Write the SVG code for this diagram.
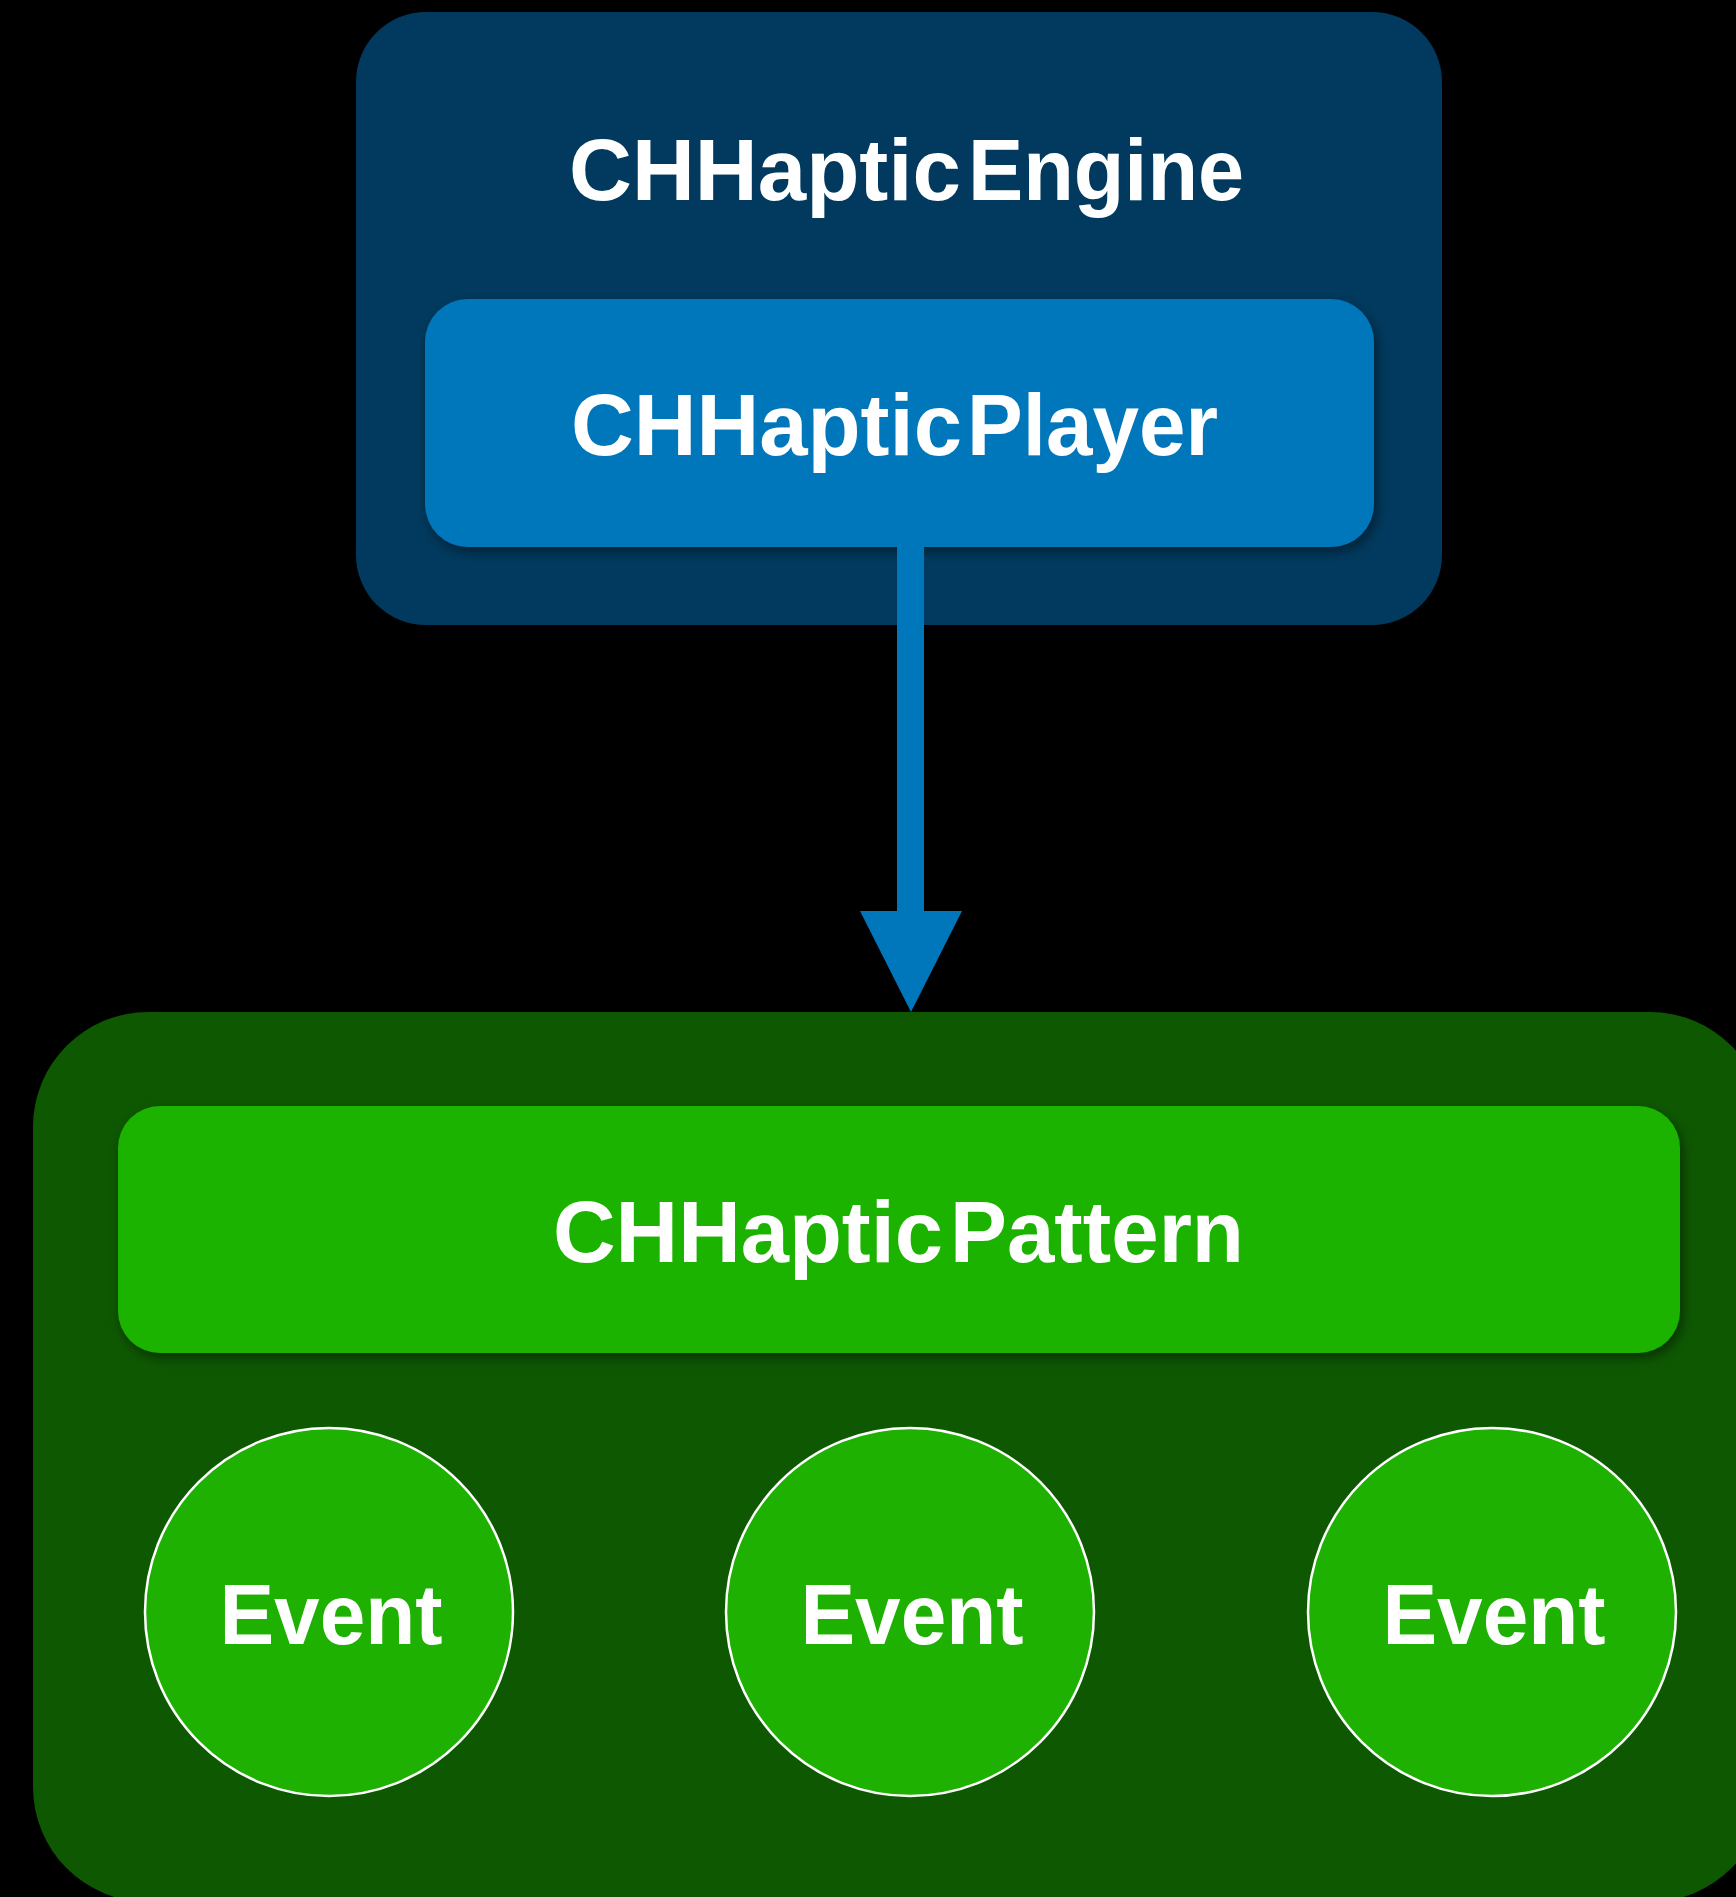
<svg xmlns="http://www.w3.org/2000/svg" width="1736" height="1897" viewBox="0 0 1736 1897">
  <style>
    .lbl { font-family: "Liberation Sans", Arial, sans-serif; font-weight: bold; fill: #ffffff; }
    .title { font-size: 87px; }
    .ev { font-size: 85px; }
    .event circle { fill: #1EB102; stroke: #ffffff; stroke-width: 2.5; }
  </style>
  <defs>
    <filter id="shadow" x="-5%" y="-10%" width="110%" height="130%">
      <feDropShadow dx="3" dy="5" stdDeviation="6" flood-color="#000000" flood-opacity="0.45"/>
    </filter>
  </defs>
  <rect x="0" y="0" width="1736" height="1897" fill="#000000"/>

  <g id="engine">
    <rect x="356" y="12" width="1086" height="613" rx="70" ry="70" fill="#013A5E"/>
    <text class="lbl title"><tspan x="569" y="200" textLength="392" lengthAdjust="spacingAndGlyphs">CHHaptic</tspan><tspan x="968" y="200" textLength="276" lengthAdjust="spacingAndGlyphs">Engine</tspan></text>
  </g>

  <g id="player">
    <rect x="425" y="299" width="949" height="248" rx="43" ry="43" fill="#0076BB" filter="url(#shadow)"/>
    <text class="lbl title"><tspan x="571" y="455" textLength="391" lengthAdjust="spacingAndGlyphs">CHHaptic</tspan><tspan x="967" y="455" textLength="251" lengthAdjust="spacingAndGlyphs">Player</tspan></text>
  </g>

  <g id="pattern-group">
    <rect x="33" y="1012" width="1732" height="890" rx="115" ry="115" fill="#0E5802"/>
  </g>

  <g id="pattern">
    <rect x="118" y="1106" width="1562" height="247" rx="42" ry="42" fill="#1CB200" filter="url(#shadow)"/>
    <text class="lbl title"><tspan x="553" y="1262" textLength="390" lengthAdjust="spacingAndGlyphs">CHHaptic</tspan><tspan x="950" y="1262" textLength="294" lengthAdjust="spacingAndGlyphs">Pattern</tspan></text>
  </g>

  <g id="event1" class="event">
    <circle cx="329" cy="1612" r="184"/>
    <text class="lbl ev" x="331" y="1644" text-anchor="middle" textLength="223" lengthAdjust="spacingAndGlyphs">Event</text>
  </g>
  <g id="event2" class="event">
    <circle cx="910" cy="1612" r="184"/>
    <text class="lbl ev" x="912" y="1644" text-anchor="middle" textLength="223" lengthAdjust="spacingAndGlyphs">Event</text>
  </g>
  <g id="event3" class="event">
    <circle cx="1492" cy="1612" r="184"/>
    <text class="lbl ev" x="1494" y="1644" text-anchor="middle" textLength="223" lengthAdjust="spacingAndGlyphs">Event</text>
  </g>

  <g id="connectors">
    <rect x="897" y="547" width="27" height="365" fill="#0076BB"/>
    <polygon points="860,911 962,911 911,1012" fill="#0076BB"/>
  </g>
</svg>
